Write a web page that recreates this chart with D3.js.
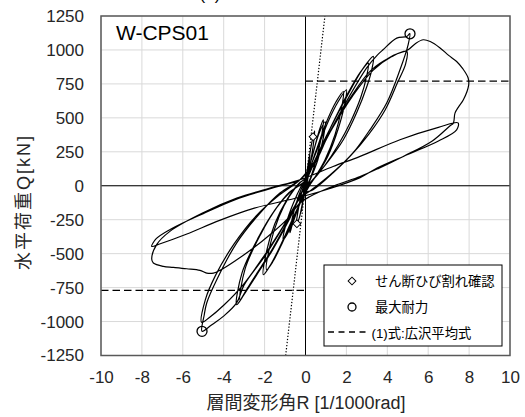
<!DOCTYPE html>
<html lang="ja">

<head>
    <meta charset="UTF-8">
    <style>
        body { margin: 0; background: #fff; }
        text { font-family: 'Liberation Sans', Arial, 'Noto Sans CJK JP', sans-serif; }
    </style>
</head>

<body>
    <script src="https://d3js.org/d3.v7.min.js"></script>
    <script>
        // R [1/1000rad], Q [kN]
        var xTicks = [-10, -8, -6, -4, -2, 0, 2, 4, 6, 8, 10]
        var yTicks = [-1250, -1000, -750, -500, -250, 0, 250, 500, 750, 1000, 1250]

        // hysteresis, one array per loading step
        var cycleSmall = [[0, 0], [0.1, 110], [0.22, 230], [0.17, 150], [0.05, 30], [-0.08, -70], [-0.2, -190], [-0.14, -110], [-0.03, 20]]
        var cycle05 = [[0.1, 130], [0.25, 270], [0.37, 361], [0.45, 405], [0.38, 300], [0.2, 130], [0.05, 0], [-0.15, -130], [-0.3, -235], [-0.42, -280], [-0.47, -300], [-0.38, -200], [-0.2, -60], [0, 40]]
        var cycle1a = [[0.3, 200], [0.65, 380], [0.96, 471], [0.88, 360], [0.6, 190], [0.3, 70], [0.05, -20], [-0.4, -170], [-0.8, -330], [-1.09, -397], [-0.95, -280], [-0.6, -130], [-0.2, 0], [0, 50]]
        var cycle1b = [[0.35, 230], [0.7, 420], [0.87, 486], [0.8, 380], [0.55, 210], [0.25, 60], [0, -20], [-0.35, -160], [-0.65, -290], [-0.76, -346], [-0.62, -220], [-0.35, -80], [0, 50]]
        var cycle2a = [[0.5, 240], [1.1, 470], [1.6, 620], [2.0, 707], [1.9, 590], [1.6, 420], [1.1, 220], [0.6, 90], [0.15, -10], [-0.5, -200], [-1.1, -400], [-1.7, -580], [-2.06, -655], [-1.9, -480], [-1.5, -280], [-0.9, -100], [-0.3, 20], [0, 55]]
        var cycle2b = [[0.5, 250], [1.0, 460], [1.5, 620], [1.85, 694], [1.75, 560], [1.45, 380], [0.95, 190], [0.45, 60], [0.1, -15], [-0.5, -210], [-1.1, -410], [-1.6, -560], [-1.9, -618], [-1.72, -430], [-1.3, -230], [-0.8, -80], [-0.25, 25], [0, 55]]
        var cycle3a = [[0.4, 170], [1.0, 360], [2.0, 650], [2.8, 860], [3.32, 952], [3.24, 854], [3.0, 731], [2.5, 537], [1.85, 339], [1.04, 167], [0.22, 22], [-0.1, -30], [-0.8, -250], [-1.6, -470], [-2.4, -660], [-3.0, -800], [-3.37, -876], [-3.1, -640], [-2.3, -380], [-1.5, -180], [-0.8, -50], [0, 40]]
        var cycle3b = [[0.5, 200], [1.2, 420], [2.0, 660], [2.7, 840], [3.07, 903], [2.98, 800], [2.7, 650], [2.2, 470], [1.6, 300], [0.9, 140], [0.2, 15], [-0.1, -25], [-0.8, -240], [-1.6, -460], [-2.4, -650], [-2.9, -770], [-3.2, -839], [-2.95, -610], [-2.2, -360], [-1.4, -160], [-0.7, -40], [0, 40]]
        var cycle5a = [[0.4, 160], [1.0, 340], [2.0, 620], [3.0, 870], [3.5, 960], [3.79, 1001], [4.46, 1087], [4.95, 1099], [5.1, 1120], [5.02, 1040], [4.62, 854], [3.97, 609], [3.15, 412], [2.33, 243], [1.35, 96], [0.37, -29], [-0.1, -60], [-1.0, -280], [-2.0, -520], [-3.0, -730], [-3.37, -863], [-4.02, -962], [-4.58, -1023], [-5.06, -1072], [-4.95, -950], [-4.83, -863], [-4.34, -692], [-3.37, -422], [-2.22, -201], [-1.25, -54], [-0.27, 44]]
        var cycle5b = [[0.4, 150], [1.2, 400], [2.2, 650], [3.2, 850], [4.2, 950], [4.95, 990], [4.9, 900], [4.5, 760], [3.9, 560], [3.1, 380], [2.2, 220], [1.2, 80], [0.3, -30], [-0.3, -100], [-1.1, -300], [-2.0, -510], [-3.0, -720], [-4.0, -880], [-4.7, -970], [-5.08, -1006], [-4.9, -840], [-4.4, -660], [-3.5, -430], [-2.4, -220], [-1.3, -70], [-0.3, 40]]
        var postPos = [[0.4, 170], [1.3, 420], [2.3, 660], [3.3, 850], [4.3, 960], [5.0, 1000], [5.4, 1050], [5.76, 1075], [6.1, 1062], [6.58, 1015], [7.0, 960], [7.39, 915], [7.7, 860], [7.95, 795], [7.98, 743], [7.72, 633], [7.5, 585], [7.31, 535], [7.23, 461], [7.07, 442], [6.2, 330], [4.78, 216], [3.6, 130], [2.67, 68], [1.4, 0], [0.22, -79]]
        var postNeg = [[-0.27, -127], [-0.92, -250], [-1.74, -361], [-2.55, -459], [-3.36, -545], [-4.18, -623], [-4.5, -643], [-4.83, -643], [-5.16, -623], [-5.81, -611], [-6.46, -601], [-6.95, -594], [-7.44, -569], [-7.52, -540], [-7.28, -434], [-6.63, -336], [-5.01, -199], [-3.36, -91], [-1.74, -17], [-0.27, 44]]
        var finalCycle = [[1.35, 142], [2.67, 216], [4.62, 339], [6.5, 430], [7.46, 463], [7.39, 412], [6.5, 330], [5.0, 230], [3.5, 130], [2.67, 60], [1.2, -20], [-0.3, -85], [-2.5, -165], [-4.2, -255], [-5.8, -355], [-7.1, -427], [-7.52, -447], [-7.3, -390], [-6.6, -320], [-5.0, -205], [-3.4, -100], [-1.8, -25], [-0.3, 35]]

        var crackPoints = [[0.37, 361], [-0.42, -280]]
        var maxPoints = [[5.11, 1119], [-5.06, -1072]]
        var hirosawaQ = [770, -770]
        var stiffLine = [[-0.97, -1250], [0.95, 1250]]

        var hysteresis = [].concat(cycleSmall, cycle05, cycle1a, cycle1b, cycle2a, cycle2b,
            cycle3a, cycle3b, cycle5a, cycle5b, postPos, postNeg, finalCycle)

        var svgWidth = 525, svgHeight = 417
        var pLeft = 101, pRight = 510, pTop = 16, pBottom = 355.5

        var svg = d3.select('body').append('svg')
            .attr('width', svgWidth)
            .attr('height', svgHeight)

        var xScale = d3.scaleLinear().domain([-10, 10]).range([pLeft, pRight])
        var yScale = d3.scaleLinear().domain([-1250, 1250]).range([pBottom, pTop])

        // grid
        svg.append('g').selectAll('line').data(xTicks).enter().append('line')
            .attr('x1', d => xScale(d)).attr('x2', d => xScale(d))
            .attr('y1', pTop).attr('y2', pBottom)
            .attr('stroke', '#d9d9d9')
        svg.append('g').selectAll('line').data(yTicks).enter().append('line')
            .attr('x1', pLeft).attr('x2', pRight)
            .attr('y1', d => yScale(d)).attr('y2', d => yScale(d))
            .attr('stroke', '#d9d9d9')

        // zero lines
        svg.append('line')
            .attr('x1', xScale(0)).attr('x2', xScale(0)).attr('y1', pTop).attr('y2', pBottom)
            .attr('stroke', '#000')
        svg.append('line')
            .attr('x1', pLeft).attr('x2', pRight).attr('y1', yScale(0)).attr('y2', yScale(0))
            .attr('stroke', '#000')

        // axes (labels only)
        svg.append('g')
            .attr('transform', 'translate(0,' + pBottom + ')')
            .call(d3.axisBottom(xScale).tickValues(xTicks).tickSize(0).tickPadding(15.4).tickFormat(d => String(d)))
        svg.append('g')
            .attr('transform', 'translate(' + pLeft + ',0)')
            .call(d3.axisLeft(yScale).tickValues(yTicks).tickSize(0).tickPadding(17).tickFormat(d => String(d)))
        svg.selectAll('.domain').remove()
        svg.selectAll('.tick text')
            .attr('font-size', 17)
            .attr('fill', '#262626')
            .style('font-family', "'Liberation Sans', Arial, sans-serif")

        svg.append('clipPath').attr('id', 'plot')
            .append('rect').attr('x', pLeft).attr('y', pTop)
            .attr('width', pRight - pLeft).attr('height', pBottom - pTop)
        var plot = svg.append('g').attr('clip-path', 'url(#plot)')

        // initial stiffness (dotted)
        plot.append('line')
            .attr('x1', xScale(stiffLine[0][0])).attr('y1', yScale(stiffLine[0][1]))
            .attr('x2', xScale(stiffLine[1][0])).attr('y2', yScale(stiffLine[1][1]))
            .attr('stroke', '#000').attr('stroke-width', 1.2)
            .attr('stroke-dasharray', '1.3,1.8')

        // hirosawa formula (dashed)
        plot.append('line')
            .attr('x1', xScale(0)).attr('x2', xScale(10))
            .attr('y1', yScale(hirosawaQ[0])).attr('y2', yScale(hirosawaQ[0]))
            .attr('stroke', '#000').attr('stroke-width', 1.3).attr('stroke-dasharray', '7.5,4')
        plot.append('line')
            .attr('x1', xScale(-10)).attr('x2', xScale(0))
            .attr('y1', yScale(hirosawaQ[1])).attr('y2', yScale(hirosawaQ[1]))
            .attr('stroke', '#000').attr('stroke-width', 1.3).attr('stroke-dasharray', '7.5,4')

        var line = d3.line()
            .x(d => xScale(d[0]))
            .y(d => yScale(d[1]))
            .curve(d3.curveCatmullRom.alpha(0.5))

        plot.append('path')
            .datum(hysteresis)
            .attr('d', line)
            .attr('fill', 'none')
            .attr('stroke', '#000')
            .attr('stroke-width', 1.2)
            .attr('stroke-linejoin', 'round')

        var diamond = d3.symbol().type(d3.symbolSquare).size(30)
        plot.selectAll('.crack').data(crackPoints).enter().append('path')
            .attr('d', diamond)
            .attr('transform', d => 'translate(' + xScale(d[0]) + ',' + yScale(d[1]) + ') rotate(45)')
            .attr('fill', '#fff').attr('stroke', '#000').attr('stroke-width', 1)
        plot.selectAll('.max').data(maxPoints).enter().append('circle')
            .attr('cx', d => xScale(d[0])).attr('cy', d => yScale(d[1]))
            .attr('r', 5)
            .attr('fill', 'none').attr('stroke', '#000').attr('stroke-width', 1.3)

        // frame
        svg.append('rect')
            .attr('x', pLeft).attr('y', pTop)
            .attr('width', pRight - pLeft).attr('height', pBottom - pTop)
            .attr('fill', 'none').attr('stroke', '#595959').attr('stroke-width', 1.5)

        // texts
        svg.append('text').attr('x', 210).attr('y', 0)
            .attr('text-anchor', 'middle').attr('font-size', 17).text('(a)')
        svg.append('text').attr('x', 116).attr('y', 40)
            .attr('font-size', 21).attr('fill', '#000').text('W-CPS01')
        svg.append('text')
            .attr('transform', 'translate(30,202) rotate(-90)')
            .attr('text-anchor', 'middle').attr('font-size', 18)
            .attr('letter-spacing', 2).attr('fill', '#262626')
            .text('水平荷重Q[kN]')
        svg.append('text').attr('x', 306).attr('y', 409)
            .attr('text-anchor', 'middle').attr('font-size', 18).attr('fill', '#262626')
            .text('層間変形角R [1/1000rad]')

        // legend
        var lg = svg.append('g')
        lg.append('rect').attr('x', 324).attr('y', 265).attr('width', 178).attr('height', 81)
            .attr('fill', '#fff').attr('stroke', '#000').attr('stroke-width', 1)
        lg.append('path').attr('d', diamond)
            .attr('transform', 'translate(352,281) rotate(45)')
            .attr('fill', '#fff').attr('stroke', '#000')
        lg.append('circle').attr('cx', 352).attr('cy', 307).attr('r', 4)
            .attr('fill', 'none').attr('stroke', '#000').attr('stroke-width', 1.3)
        lg.append('line').attr('x1', 328).attr('x2', 370).attr('y1', 332).attr('y2', 332)
            .attr('stroke', '#000').attr('stroke-width', 1.3).attr('stroke-dasharray', '6,4.5')
        var legendText = ['せん断ひび割れ確認', '最大耐力', '(1)式:広沢平均式']
        lg.selectAll('.lt').data(legendText).enter().append('text')
            .attr('x', (d, i) => i == 2 ? 371.5 : 375)
            .attr('y', (d, i) => 286 + i * 26)
            .attr('font-size', 13.3)
            .attr('fill', '#000')
            .text(d => d)
    </script>
</body>

</html>
